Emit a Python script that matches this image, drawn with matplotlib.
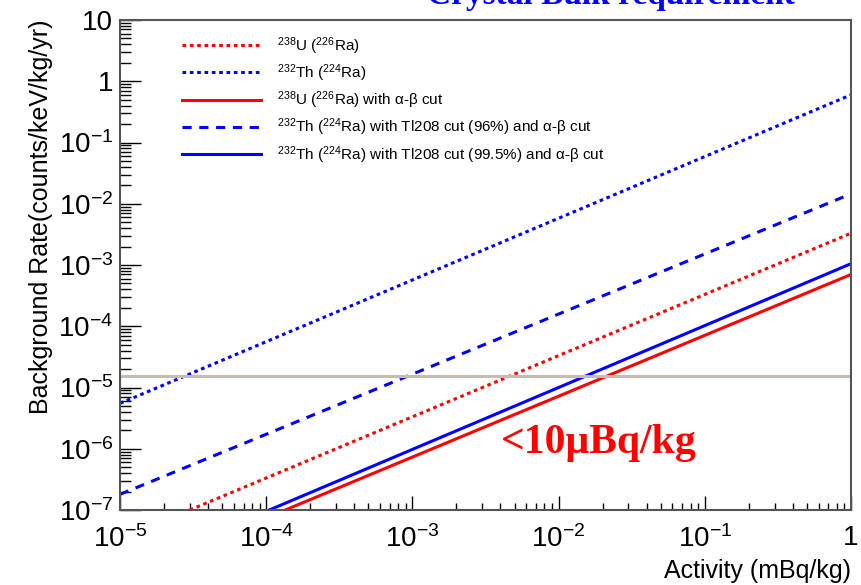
import matplotlib
matplotlib.use("Agg")
import matplotlib.pyplot as plt
from matplotlib.ticker import LogLocator, FixedLocator, FixedFormatter, NullFormatter

plt.rcParams['font.family'] = ['Liberation Sans', 'DejaVu Sans']
plt.rcParams['mathtext.fontset'] = 'custom'
plt.rcParams['mathtext.rm'] = 'Liberation Sans'
plt.rcParams['mathtext.it'] = 'Liberation Sans'
plt.rcParams['mathtext.bf'] = 'Liberation Sans:bold'

# ---- data ----
labels = ['$^{238}$U ($^{226}$Ra)',
          '$^{232}$Th ($^{224}$Ra)',
          '$^{238}$U ($^{226}$Ra) with \u03b1-\u03b2 cut',
          '$^{232}$Th ($^{224}$Ra) with Tl208 cut (96%) and \u03b1-\u03b2 cut',
          '$^{232}$Th ($^{224}$Ra) with Tl208 cut (99.5%) and \u03b1-\u03b2 cut']
u_dot_x = [3.0e-5, 1.0]
u_dot_y = [1.0e-7, 3.3e-3]
th_dot_x = [1.0e-5, 1.0]
th_dot_y = [5.5e-6, 0.6]
u_cut_x = [1.35e-4, 1.0]
u_cut_y = [1.0e-7, 7.0e-4]
th96_x = [1.0e-5, 1.0]
th96_y = [1.8e-7, 1.45e-2]
th995_x = [1.05e-4, 1.0]
th995_y = [1.0e-7, 1.05e-3]
requirement_rate = 1.55e-5

x_ticks = [1e-5, 1e-4, 1e-3, 1e-2, 1e-1, 1]
x_ticklabels = [r'$10^{-5}$', r'$10^{-4}$', r'$10^{-3}$', r'$10^{-2}$', r'$10^{-1}$', '1']
y_ticks = [1e-7, 1e-6, 1e-5, 1e-4, 1e-3, 1e-2, 1e-1, 1, 10]
y_ticklabels = [r'$10^{-7}$', r'$10^{-6}$', r'$10^{-5}$', r'$10^{-4}$', r'$10^{-3}$',
                r'$10^{-2}$', r'$10^{-1}$', '1', '10']

fig = plt.figure(figsize=(8.62, 5.85), dpi=100)
ax = fig.add_axes([120/862, 75/585, 731/862, 490/585])

lw = 2.2
ax.plot(u_dot_x, u_dot_y, color='#ff0000', lw=lw, ls=(0, (1.2, 1.2)), label=labels[0])
ax.plot(th_dot_x, th_dot_y, color='#0000ff', lw=lw, ls=(0, (1.2, 1.2)), label=labels[1])
ax.plot(u_cut_x, u_cut_y, color='#ff0000', lw=lw, ls='-', label=labels[2])
ax.plot(th96_x, th96_y, color='#0000ff', lw=lw, ls=(0, (3, 2.5)), label=labels[3])
ax.plot(th995_x, th995_y, color='#0000ff', lw=lw, ls='-', label=labels[4])
ax.axhline(requirement_rate, color='#c5bcb2', lw=2.2)

ax.set_xscale('log')
ax.set_yscale('log')
ax.set_xlim(1e-5, 1)
ax.set_ylim(1e-7, 10)

ax.xaxis.set_major_locator(FixedLocator(x_ticks))
ax.xaxis.set_major_formatter(FixedFormatter(x_ticklabels))
ax.yaxis.set_major_locator(FixedLocator(y_ticks))
ax.yaxis.set_major_formatter(FixedFormatter(y_ticklabels))
ax.xaxis.set_minor_locator(LogLocator(base=10, subs=range(2, 10), numticks=20))
ax.yaxis.set_minor_locator(LogLocator(base=10, subs=range(2, 10), numticks=20))
ax.xaxis.set_minor_formatter(NullFormatter())
ax.yaxis.set_minor_formatter(NullFormatter())

ax.tick_params(axis='x', which='major', direction='in', length=10, width=1, labelsize=20, pad=11, top=False)
ax.tick_params(axis='x', which='minor', direction='in', length=5, width=1, top=False)
ax.tick_params(axis='y', which='major', direction='in', length=15, width=1, labelsize=20, pad=5, right=False)
ax.tick_params(axis='y', which='minor', direction='in', length=8, width=1, right=False)

for s in ax.spines.values():
    s.set_color('#555555')
    s.set_linewidth(1.5)

ax.set_xlabel('Activity (mBq/kg)', fontsize=18, loc='right', labelpad=4)
ax.set_ylabel('Background Rate(counts/keV/kg/yr)', fontsize=18, loc='top', labelpad=4)

leg = ax.legend(loc='upper left', bbox_to_anchor=(0.074, 0.985), frameon=False,
                fontsize=11, handlelength=5.2, handletextpad=1.05, labelspacing=0.37,
                borderpad=0)

fig.text(611/862, 1 - 4/585, 'Crystal Bulk requirement', color='#0000ff',
         fontsize=24, fontweight='bold', family='Liberation Serif',
         ha='center', va='baseline')
fig.text(599/862, 1 - 443/585, '<10\u03bcBq/kg', color='#ff0000', fontsize=30,
         fontweight='bold', family='Liberation Serif', ha='center', va='center')

fig.savefig('out.png', dpi=100)
